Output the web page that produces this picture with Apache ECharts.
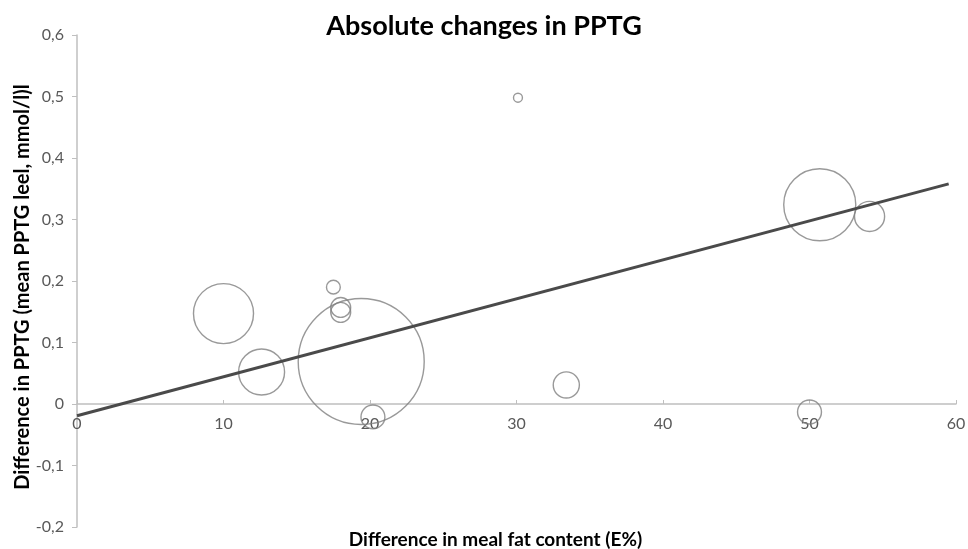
<!DOCTYPE html>
<html>
<head>
<meta charset="utf-8">
<script src="https://cdn.jsdelivr.net/npm/echarts@6/dist/echarts.min.js"></script>
<style>html,body{margin:0;padding:0;background:#fff;}#c{width:968px;height:549px;}</style>
</head>
<body>
<div id="c"></div>
<script>
// Bubble data
const fatDiff   = [10.0, 12.6, 17.5, 18.0, 18.0, 19.4, 20.2, 30.1, 33.4, 50.0, 50.7, 54.1];
const pptgDiff  = [0.147, 0.052, 0.19, 0.157, 0.149, 0.069, -0.021, 0.498, 0.031, -0.013, 0.324, 0.305];
const weights   = [22.7, 13.3, 1.2, 2.5, 2.5, 100, 3.6, 0.5, 4.3, 3.6, 32.7, 5.7];
// Trend line endpoints
const trendX = [0, 59.5];
const trendY = [-0.019, 0.358];
const xTicks = [0, 10, 20, 30, 40, 50, 60];
const yTicks = [-0.2, -0.1, 0, 0.1, 0.2, 0.3, 0.4, 0.5, 0.6];

const bubbles = fatDiff.map((x, i) => [x, pptgDiff[i], weights[i]]);
const trend = trendX.map((x, i) => [x, trendY[i]]);

const chart = echarts.init(document.getElementById('c'), null, {renderer: 'canvas'});
const font = 'Lato, "Open Sans", sans-serif';
chart.setOption({
  animation: false,
  backgroundColor: '#ffffff',
  title: {
    text: 'Absolute changes in PPTG',
    left: 479, top: 8, textAlign: 'center',
    textStyle: {fontFamily: font, fontSize: 27, fontWeight: 'bold', color: '#000'}
  },
  grid: {left: 77, right: 12, top: 35, bottom: 22, containLabel: false, outerBoundsMode: 'none'},
  xAxis: {
    type: 'value', min: xTicks[0], max: xTicks[xTicks.length - 1], interval: 10,
    offset: -123,
    axisLine: {onZero: false, lineStyle: {color: '#bfbfbf', width: 1.5}},
    axisTick: {show: true, inside: true, length: 4, lineStyle: {color: '#bfbfbf'}},
    splitLine: {show: false},
    axisLabel: {color: '#595959', fontFamily: font, fontSize: 16, margin: 12},
    name: 'Difference in meal fat content (E%)',
    nameLocation: 'middle', nameGap: 126, nameMoveOverlap: false,
    nameTextStyle: {fontFamily: font, fontSize: 19, fontWeight: 'bold', color: '#000', padding: [0, 42, 0, 0]}
  },
  yAxis: {
    type: 'value', min: yTicks[0], max: yTicks[yTicks.length - 1], interval: 0.1,
    axisLine: {show: true, lineStyle: {color: '#bfbfbf', width: 1.5}},
    axisTick: {show: true, length: 5, lineStyle: {color: '#bfbfbf'}},
    splitLine: {show: false},
    axisLabel: {
      color: '#595959', fontFamily: font, fontSize: 16, margin: 13,
      formatter: v => Math.abs(v) < 1e-9 ? '0' : v.toFixed(1).replace('.', ',')
    },
    name: 'Difference in PPTG (mean PPTG leel, mmol/l)l',
    nameLocation: 'middle', nameGap: 44, nameMoveOverlap: false,
    nameTextStyle: {fontFamily: font, fontSize: 20, fontWeight: 'bold', color: '#000', padding: [0, 12, 0, 0]}
  },
  series: [
    {
      type: 'scatter',
      data: bubbles,
      symbol: 'circle',
      symbolSize: d => 12.6 * Math.sqrt(d[2]),
      itemStyle: {color: 'rgba(0,0,0,0)', borderColor: '#7f7f7f', borderWidth: 1.4},
      emphasis: {disabled: true},
      z: 2
    },
    {
      type: 'line',
      data: trend,
      symbol: 'none',
      lineStyle: {color: '#4a4a4a', width: 3},
      z: 3
    }
  ]
});
</script>
</body>
</html>
